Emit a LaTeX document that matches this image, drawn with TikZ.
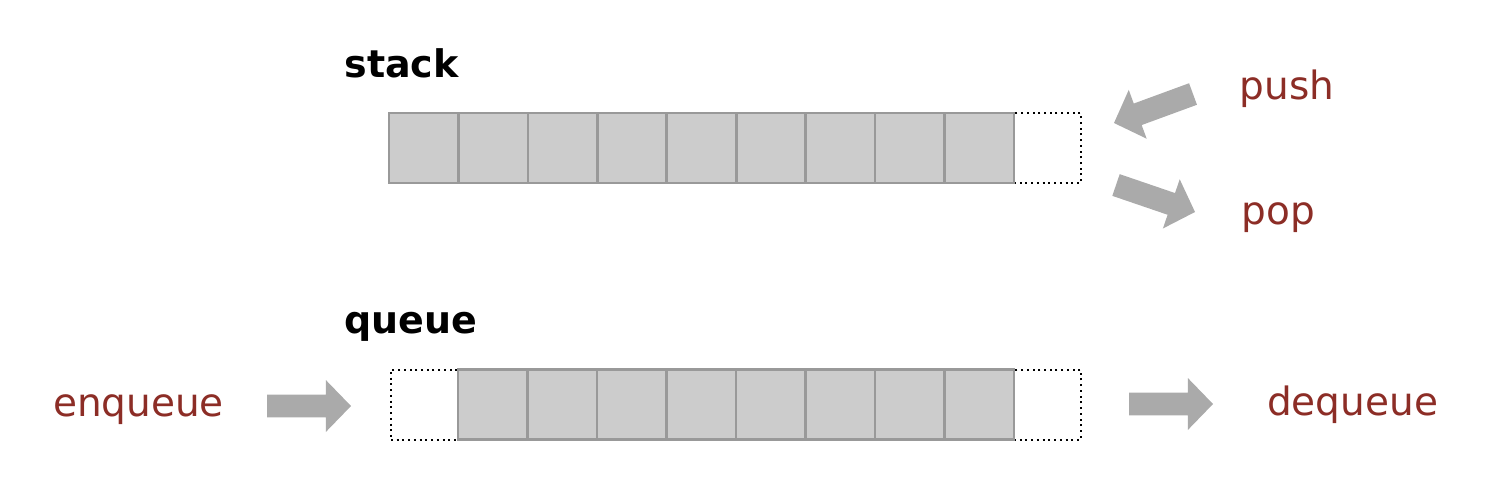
\documentclass[tikz,border=0pt]{standalone}
\usepackage{fontspec}
\setmainfont{DejaVu Sans}
\usetikzlibrary{calc}
\definecolor{cellfill}{RGB}{204,204,204}
\definecolor{celldraw}{RGB}{153,153,153}
\definecolor{arrowgray}{RGB}{170,170,170}
\definecolor{labelred}{RGB}{140,45,38}
\newcommand{\fatarrow}[2]{%
  \coordinate (#1m) at ($(#1)!0.7!(#2)$);
  \fill[arrowgray] ($(#1)!8.6pt!90:(#2)$) -- ($(#1m)!8.6pt!90:(#2)$) -- ($(#1m)!19.5pt!90:(#2)$) -- (#2)
    -- ($(#1m)!19.5pt!-90:(#2)$) -- ($(#1m)!8.6pt!-90:(#2)$) -- ($(#1)!8.6pt!-90:(#2)$) -- cycle;}
\tikzset{
  cell/.style={draw=celldraw, fill=cellfill, line width=2pt, minimum width=52.1pt, minimum height=52.5pt, inner sep=0pt, outer sep=0pt},
  slot/.style={draw=black, line width=1.5pt, dash pattern=on 1.5pt off 2.8pt, minimum width=50.25pt, minimum height=52.5pt, inner sep=0pt, outer sep=0pt},
  title/.style={font=\bfseries\fontsize{28.5pt}{34pt}\selectfont, text=black, inner sep=0pt, anchor=base},
  oplabel/.style={font=\fontsize{29.25pt}{35pt}\selectfont, text=labelred, inner sep=0pt, anchor=base}
}
\begin{document}
\begin{tikzpicture}[x=0.75pt, y=-0.75pt]
\useasboundingbox (0,0) rectangle (1508,500);
% titles
\node[title] (stacklbl) at (401.5,77) {stack};
\node[title] (queuelbl) at (411,333) {queue};
% stack
\node[slot] (stop) at (1047.5,148) {};
\foreach \i in {1,...,9} {
  \node[cell] (s\i) at ({389+69.44*(\i-0.5)},148) {};
}
% queue
\node[slot] (qin) at (424.5,404.5) {};
\node[slot] (qout) at (1047.5,404.5) {};
\foreach \i in {1,...,8} {
  \node[cell] (q\i) at ({458+69.5*(\i-0.5)},404.5) {};
}
% labels
\node[oplabel] (push) at (1287,99) {push};
\node[oplabel] (pop) at (1278.5,224) {pop};
\node[oplabel] (enq) at (138.5,416) {enqueue};
\node[oplabel] (deq) at (1352.5,415) {dequeue};
% arrows
\coordinate (pushA) at (1193,94);
\coordinate (pushB) at (1114,123);
\coordinate (popA) at (1116,185);
\coordinate (popB) at (1195,212);
\coordinate (enqA) at (267,406);
\coordinate (enqB) at (351,406);
\coordinate (deqA) at (1129,404);
\coordinate (deqB) at (1213,404);
\fatarrow{pushA}{pushB}
\fatarrow{popA}{popB}
\fatarrow{enqA}{enqB}
\fatarrow{deqA}{deqB}
\end{tikzpicture}
\end{document}
